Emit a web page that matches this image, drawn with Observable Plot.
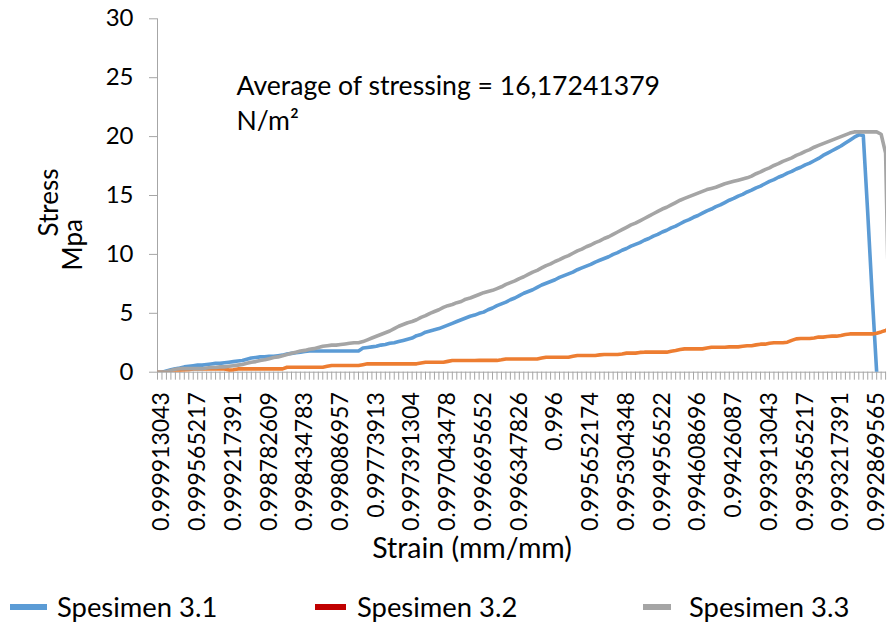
<!DOCTYPE html>
<html>
<head>
<meta charset="utf-8">
<script src="https://cdn.jsdelivr.net/npm/d3@7"></script>
<script src="https://cdn.jsdelivr.net/npm/@observablehq/plot@0.6"></script>
<style>
  html, body { margin: 0; padding: 0; background: #fff; }
  #wrap { position: relative; width: 889px; height: 626px; font-family: Lato, "Noto Sans", sans-serif; color: #000; }
  #legend { position: relative; width: 889px; height: 41px; }
  .sw { position: absolute; height: 6px; top: 19px; }
  .lt { position: absolute; top: 8px; font-size: 27.4px; line-height: 27px; white-space: nowrap; }
</style>
</head>
<body>
<div id="wrap">
  <div id="chart"></div>
  <div id="legend"></div>
</div>
<script>
// ---- data ----
const strainLabels = ["0.999913043","0.999565217","0.999217391","0.998782609","0.998434783","0.998086957","0.99773913","0.997391304","0.997043478","0.996695652","0.996347826","0.996","0.995652174","0.995304348","0.994956522","0.994608696","0.99426087","0.993913043","0.993565217","0.993217391","0.992869565"];
const firstLabelIndex = 1;
const labelEvery = 8;

const spesimen31 = [
 0,0,0.1,0.2,0.3,0.35,0.45,0.5,0.55,0.6,
 0.6,0.65,0.7,0.75,0.75,0.8,0.85,0.9,0.95,1.0,
 1.1,1.2,1.25,1.3,1.3,1.35,1.35,1.4,1.45,1.55,
 1.6,1.65,1.7,1.75,1.8,1.8,1.8,1.8,1.8,1.8,
 1.8,1.8,1.8,1.8,1.8,1.8,2.05,2.1,2.15,2.2,
 2.3,2.35,2.45,2.5,2.6,2.7,2.8,2.9,3.1,3.2,
 3.4,3.5,3.6,3.7,3.85,4.0,4.15,4.3,4.45,4.6,
 4.75,4.85,5.0,5.1,5.3,5.45,5.65,5.8,5.95,6.15,
 6.3,6.5,6.7,6.85,7.0,7.2,7.4,7.55,7.7,7.85,
 8.05,8.2,8.35,8.5,8.7,8.85,9.0,9.15,9.35,9.5,
 9.65,9.8,10.0,10.15,10.35,10.5,10.7,10.85,11.0,11.2,
 11.35,11.55,11.7,11.9,12.05,12.25,12.4,12.6,12.8,12.95,
 13.15,13.3,13.5,13.7,13.85,14.05,14.2,14.4,14.6,14.75,
 14.95,15.1,15.3,15.45,15.65,15.8,16.0,16.2,16.35,16.55,
 16.7,16.9,17.05,17.25,17.4,17.6,17.75,17.95,18.15,18.4,
 18.6,18.8,19.0,19.2,19.45,19.7,19.95,20.15,20.1,13.5,
 6.5,0
];
const spesimen32 = [
 0,0,0.02,0.08,0.14,0.18,0.2,0.22,0.28,0.28,
 0.28,0.28,0.28,0.28,0.28,0.28,0.18,0.2,0.28,0.28,
 0.28,0.28,0.28,0.28,0.28,0.28,0.28,0.28,0.28,0.42,
 0.42,0.42,0.42,0.42,0.42,0.42,0.42,0.42,0.5,0.57,
 0.57,0.57,0.57,0.57,0.57,0.57,0.64,0.71,0.71,0.71,
 0.71,0.71,0.71,0.71,0.71,0.71,0.71,0.71,0.71,0.78,
 0.85,0.85,0.85,0.85,0.85,0.92,0.99,0.99,0.99,0.99,
 0.99,0.99,1.0,1.0,1.0,1.0,1.0,1.05,1.12,1.12,
 1.12,1.12,1.12,1.12,1.12,1.12,1.2,1.27,1.27,1.27,
 1.27,1.27,1.27,1.35,1.42,1.42,1.42,1.42,1.42,1.47,
 1.5,1.5,1.5,1.5,1.55,1.62,1.62,1.62,1.68,1.7,
 1.7,1.7,1.7,1.7,1.7,1.78,1.84,1.92,1.98,1.98,
 1.98,1.98,1.98,2.05,2.12,2.12,2.12,2.12,2.15,2.15,
 2.15,2.2,2.25,2.25,2.32,2.38,2.38,2.46,2.5,2.5,
 2.5,2.55,2.7,2.83,2.86,2.86,2.86,2.9,2.98,2.98,
 3.03,3.06,3.06,3.12,3.2,3.25,3.25,3.25,3.25,3.25,
 3.25,3.3,3.42,3.55,3.7
];
const spesimen33 = [
 0,0,0.05,0.15,0.25,0.3,0.3,0.3,0.3,0.3,
 0.3,0.35,0.4,0.4,0.45,0.45,0.5,0.55,0.6,0.65,
 0.75,0.85,0.9,1.0,1.05,1.15,1.25,1.3,1.4,1.5,
 1.6,1.7,1.8,1.85,1.95,2.0,2.1,2.2,2.25,2.3,
 2.3,2.35,2.4,2.45,2.5,2.5,2.6,2.75,2.9,3.05,
 3.2,3.35,3.5,3.7,3.9,4.05,4.2,4.3,4.45,4.65,
 4.8,5.0,5.15,5.3,5.5,5.65,5.75,5.9,6.0,6.2,
 6.3,6.45,6.6,6.75,6.85,6.95,7.1,7.25,7.45,7.6,
 7.75,7.95,8.1,8.3,8.5,8.65,8.85,9.05,9.2,9.4,
 9.55,9.75,9.9,10.1,10.3,10.45,10.65,10.8,11.0,11.15,
 11.35,11.5,11.7,11.9,12.1,12.3,12.5,12.65,12.85,13.05,
 13.25,13.45,13.65,13.85,14.0,14.2,14.4,14.6,14.75,14.9,
 15.05,15.2,15.35,15.5,15.6,15.7,15.85,16.0,16.1,16.2,
 16.3,16.4,16.5,16.65,16.85,17.0,17.2,17.35,17.55,17.7,
 17.9,18.05,18.2,18.4,18.55,18.75,18.9,19.1,19.25,19.4,
 19.55,19.7,19.85,20.0,20.15,20.3,20.4,20.4,20.4,20.4,
 20.4,20.4,20.2,18.6,0
];
const seriesNames = ["Spesimen 3.1", "Spesimen 3.2", "Spesimen 3.3"];
const lineColors = ["#5b9bd5", "#ed7d31", "#a5a5a5"];
const legendColors = ["#5b9bd5", "#c00000", "#a5a5a5"];
const yTicks = [0, 5, 10, 15, 20, 25, 30];
const annotation = "Average of stressing = 16,17241379\nN/m²";
const yTitleLines = ["Stress", "Mpa"];
const xTitle = "Strain (mm/mm)";

// ---- build ----
const seriesValues = [spesimen31, spesimen32, spesimen33];
const rows = seriesValues.flatMap((vals, s) => vals.map((v, i) => ({series: seriesNames[s], i, v})));
const nCat = spesimen33.length;
const allTicks = d3.range(0, nCat);
const labelTicks = strainLabels.map((_, k) => firstLabelIndex + k * labelEvery);
const labelOf = new Map(labelTicks.map((t, k) => [t, strainLabels[k]]));
const axisGray = "#a6a6a6";

const chart = Plot.plot({
  width: 889,
  height: 585,
  marginTop: 18.3,
  marginLeft: 157,
  marginRight: 3,
  marginBottom: 213.3,
  style: {fontFamily: "Lato, 'Noto Sans', sans-serif", color: "#000", background: "#fff"},
  x: {type: "linear", domain: [0, 163.2]},
  y: {domain: [0, 30]},
  color: {domain: seriesNames, range: lineColors},
  marks: [
    Plot.axisY({ticks: yTicks, tickSize: 8, tickPadding: 16, fontSize: 24, label: null, stroke: axisGray, fill: "#000"}),
    Plot.axisX({ticks: allTicks, tickSize: 8, tickFormat: () => "", label: null, stroke: axisGray}),
    Plot.axisX({ticks: labelTicks, tickSize: 0, tickPadding: 20, tickRotate: -90, fontSize: 23, tickFormat: (d) => labelOf.get(d), label: null, fill: "#000"}),
    Plot.ruleY([0], {stroke: axisGray, strokeWidth: 1}),
    Plot.ruleX([0], {stroke: axisGray, strokeWidth: 1}),
    Plot.line(rows, {x: "i", y: "v", z: "series", stroke: "series", strokeWidth: 3.6, strokeLinejoin: "round", clip: true}),
    Plot.text([annotation], {frameAnchor: "top-left", dx: 79, dy: 51, textAnchor: "start", lineAnchor: "top", lineHeight: 1.32, fontSize: 26.6, fill: "#000"}),
    Plot.text([yTitleLines[0]], {frameAnchor: "top-left", rotate: -90, dx: -108, dy: 217.7, textAnchor: "start", lineAnchor: "middle", fontSize: 26, fill: "#000"}),
    Plot.text([yTitleLines[1]], {frameAnchor: "top-left", rotate: -90, dx: -84, dy: 251.7, textAnchor: "start", lineAnchor: "middle", fontSize: 26, fill: "#000"}),
    Plot.text([xTitle], {frameAnchor: "bottom", dx: -50, dy: 185.5, textAnchor: "middle", lineAnchor: "bottom", fontSize: 28.5, fill: "#000"})
  ]
});
document.getElementById("chart").appendChild(chart);

// ---- legend ----
const legend = document.getElementById("legend");
const swatchPos = [[10, 37], [315, 31], [643, 28]];
const textPos = [57, 357, 689];
seriesNames.forEach((name, k) => {
  const sw = document.createElement("div");
  sw.className = "sw";
  sw.style.left = swatchPos[k][0] + "px";
  sw.style.width = swatchPos[k][1] + "px";
  sw.style.background = legendColors[k];
  legend.appendChild(sw);
  const t = document.createElement("div");
  t.className = "lt";
  t.style.left = textPos[k] + "px";
  t.textContent = name;
  legend.appendChild(t);
});
</script>
</body>
</html>
